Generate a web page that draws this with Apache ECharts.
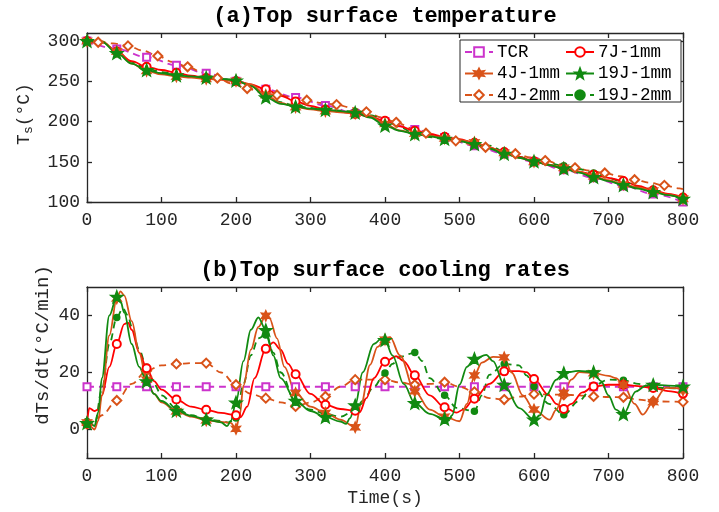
<!DOCTYPE html>
<html><head><meta charset="utf-8">
<script src="https://cdn.jsdelivr.net/npm/echarts@6/dist/echarts.min.js"></script>
<style>html,body{margin:0;padding:0;background:#fff}#c{width:719px;height:512px}</style>
</head><body><div id="c"></div>
<script>
// ---------------- DATA ----------------
const seriesNames = ['TCR','7J-1mm','4J-1mm','19J-1mm','4J-2mm','19J-2mm'];
const xTicks = [0,100,200,300,400,500,600,700,800];
const topYTicks = [100,150,200,250,300];
const botYTicks = [0,20,40];

// (a) top surface temperature, time every 20 s
const topTime = [0,20,40,60,80,100,120,140,160,180,200,220,240,260,280,300,320,340,360,380,400,420,440,460,480,500,520,540,560,580,600,620,640,660,680,700,720,740,760,780,800];
const top7J1mm  = [300,299,287,275,268,264,260.5,257,254,252,250,246,240,232,225,219.5,215,212,209.5,206,201,194,188.5,184.5,181,178,173.5,168,162,156,150.5,146,141.5,137.5,134,130,126,120,114.5,110,105.5];
const top4J1mm  = [300,299.5,287,272,263,258.5,256,254.5,253,252,250.5,246,233,223,218,215,213,211.5,210,207,197,189,185,182,179,177,174,168,161,155,150,146.5,142.5,138,132,127,122,118,114,109,104];
const top19J1mm = [300,299,285,272,264,260,257.5,256,254.5,253,251,244,230,222,218.5,216,214.5,213,211,205,195,188.5,184.5,181.5,178.5,175.5,172,166.5,160,155,150.5,146,141.5,136.5,131,126,121,116.5,112.5,108.5,104];
const top19J2mm = [300,299.5,287,274,266,261.5,258.5,256,254.5,253,251.5,245,233,224,219.5,217,215,213.5,212,208,202,193,185,180.5,178,176,174.5,170,163,156,151,148,145,141,136,130,124,119,114,109,104];
const topTCR = [[0,300],[40,290],[80,280],[120,270],[160,260],[200,250],[240,240],[280,230],[320,220],[360,210],[400,200],[440,190],[480,180],[520,170],[560,160],[600,150],[640,140],[680,130],[720,120],[760,110],[800,100]];
const top4J2mm = [[0,300],[15,298.5],[35,297],[55,294],[75,288],[95,281.5],[115,274],[135,268],[155,261],[175,254],[195,247],[215,241],[235,236],[255,233],[275,230],[295,226.5],[315,223],[335,221],[355,217],[375,212],[395,205],[415,199],[435,192],[455,185.5],[475,180],[495,176],[515,172],[535,168],[555,164],[575,160],[595,155.5],[615,151.5],[635,147],[655,142.5],[675,139],[695,136],[715,132],[735,127.6],[755,124],[775,120.7],[795,117],[800,116]];

// (b) top surface cooling rates [time, rate]
const botTCR = [[0,15],[40,15],[80,15],[120,15],[160,15],[200,15],[240,15],[280,15],[320,15],[360,15],[400,15],[440,15],[480,15],[520,15],[560,15],[600,15],[640,15],[680,15],[720,15],[760,15],[800,15]];
const bot7J1mm = [[0,2],[3,7.5],[10,6.5],[15,7],[20,12],[30,22],[40,30],[50,37],[55,37.5],[60,35],[70,27],[80,21.5],[90,17],[100,14],[120,10.5],[140,8],[160,6.9],[180,5.8],[200,5],[206,4.3],[215,8],[225,18],[240,28.3],[250,30.6],[260,28],[270,23],[280,19.4],[300,12.5],[320,8.7],[340,7.2],[360,6.6],[366,6.1],[375,11],[385,18],[400,23.8],[415,25.7],[425,24],[440,19],[460,12],[480,7.8],[496,5.9],[505,7],[520,10.8],[540,16],[560,20.4],[580,20.5],[590,20.1],[600,17.7],[620,12],[630,9],[640,7.2],[650,9],[665,13],[680,15.1],[700,15.7],[720,15.7],[740,15.2],[760,14.6],[780,13.5],[800,12.6]];
const bot4J1mm = [[0,2.5],[5,1],[10,0],[15,3],[20,12],[30,33],[40,46],[45,48.5],[50,47],[60,38],[70,27],[80,17.5],[90,12.5],[100,9.5],[120,6.4],[140,4.5],[160,3.2],[180,2.7],[193,2.3],[200,0.2],[205,5],[210,15.4],[220,28],[230,36],[240,39.9],[245,39],[255,32],[265,22],[280,12.8],[300,8],[320,5.8],[340,3.5],[360,0.8],[368,9],[380,22.7],[390,29],[400,31.5],[407,32.3],[420,26],[440,13.4],[460,7],[480,4.5],[500,2.9],[510,9],[520,19],[530,23.5],[545,25.5],[560,25.3],[570,20],[585,12],[600,7],[621,3.5],[630,7],[640,12.8],[650,17.5],[661,20.1],[680,19.8],[700,18.8],[710,18],[720,15.7],[735,9],[746,5.2],[760,9.6],[777,14.6],[790,14.5],[800,13.7]];
const bot19J1mm = [[0,2.3],[5,2],[10,1.2],[15,6],[20,18],[30,40],[40,46.6],[45,45],[50,41],[60,30],[70,22],[80,16.9],[90,12.5],[100,10],[120,6.6],[140,4.8],[160,3.5],[180,2.5],[188,1.2],[193,3],[200,9.5],[210,24],[220,35],[230,39.3],[240,34.9],[250,26],[260,18],[280,10.1],[300,6.5],[320,4.4],[340,2.8],[348,2],[353,4],[360,8.5],[370,20],[385,30],[397,32.3],[400,31.4],[410,26],[425,16],[440,9.3],[460,5.5],[480,3.7],[485,3],[490,5],[500,15.7],[510,22],[520,24.8],[536,26.2],[545,24],[560,15.7],[580,7.5],[600,3.5],[608,5],[617,12.2],[630,17.5],[640,19.8],[660,20.6],[680,20.1],[690,17],[700,12],[710,7],[720,5.4],[737,13.4],[750,15.4],[760,15.7],[780,15.4],[800,15.1]];
const bot4J2mm = [[0,2],[10,3],[20,5],[40,10.2],[60,16],[80,20.6],[100,22.5],[120,23],[140,23.3],[160,23.3],[180,20],[200,15.7],[220,12.5],[240,11],[260,9.5],[280,8.1],[300,9.5],[320,11.6],[340,15],[360,17.5],[380,17.5],[400,17.5],[420,16.5],[440,15.7],[460,16],[480,16.6],[500,15],[520,13.2],[540,11],[560,10.5],[580,11.5],[600,12.4],[620,12.3],[640,12.2],[660,12],[680,11.6],[700,11.4],[720,11.3],[740,10.5],[760,9.9],[780,9.8],[800,9.7]];
const bot19J2mm = [[0,2.8],[5,2],[10,1.5],[20,14],[30,30],[40,39.3],[48,42.5],[55,40],[60,36],[70,28],[80,21.8],[90,16],[100,12],[120,7.3],[140,5],[160,3.5],[180,3],[190,2.5],[200,4],[210,16],[220,26],[230,32],[240,33.2],[250,27],[260,20],[280,9.6],[300,7],[320,5.5],[340,4.5],[360,6.8],[370,10],[385,15],[400,19.8],[410,23],[420,25.5],[440,27],[450,24],[460,18],[480,12],[496,7.6],[520,6.4],[530,12],[540,19.2],[560,23],[580,22.5],[590,19],[600,15.1],[620,9],[640,5.2],[660,10],[680,15.4],[700,17.5],[720,17.3],[740,16],[760,14.8],[780,14.5],[800,14.4]];

// ---------------- STYLE ----------------
const FONT = 'Liberation Mono';
const AX = '#262626';
const C_TCR = '#CC33CC', C_RED = '#FF0000', C_OR = '#D95319', C_GR = '#118A11';

function starPath(n, inner) {
  const pts = [];
  for (let i = 0; i < 2 * n; i++) {
    const r = (i % 2) ? inner : 1;
    const a = -Math.PI / 2 + i * Math.PI / n;
    pts.push((50 + 50 * r * Math.cos(a)).toFixed(2) + ' ' + (50 + 50 * r * Math.sin(a)).toFixed(2));
  }
  return 'path://M' + pts.join(' L') + ' Z';
}
const PENTA = starPath(5, 0.42);
const HEXA = starPath(6, 0.5);

const sty = {
  'TCR':     {color: C_TCR, dash: [7,5], symbol: 'emptyRect', size: 7},
  '7J-1mm':  {color: C_RED, dash: 'solid', symbol: 'emptyCircle', size: 8},
  '4J-1mm':  {color: C_OR, dash: 'solid', symbol: HEXA, size: 10},
  '19J-1mm': {color: C_GR, dash: 'solid', symbol: PENTA, size: 12},
  '4J-2mm':  {color: C_OR, dash: [7,5], symbol: 'emptyDiamond', size: 9},
  '19J-2mm': {color: C_GR, dash: [7,5], symbol: 'circle', size: 6}
};

function mk(name, pairs, gi, markAt) {
  const s = sty[name];
  return {
    type: 'line', name: name,
    xAxisIndex: gi * 2, yAxisIndex: gi * 2,
    data: pairs.map(p => markAt(p[0]) ? {value: p} : {value: p, symbol: 'none'}),
    symbol: s.symbol, symbolSize: s.size, symbolKeepAspect: true,
    showSymbol: true, showAllSymbol: true,
    smooth: 0.35, smoothMonotone: 'x',
    lineStyle: {color: s.color, width: 1.8, type: s.dash},
    itemStyle: {color: s.color, borderColor: s.color, borderWidth: 1.5},
    emphasis: {disabled: true}, animation: false, clip: true
  };
}
const zip = (t, v) => t.map((x, i) => [x, v[i]]);
const m40 = t => t % 40 === 0;
const m15 = t => (t - 15) % 40 === 0;
const all = t => true;

function xAx(gi, pos, labels) {
  return {
    type: 'value', gridIndex: gi, position: pos, min: 0, max: 800, interval: 100,
    axisLine: {show: true, onZero: false, lineStyle: {color: AX, width: 1.3}},
    axisTick: {show: true, inside: true, length: 5, lineStyle: {color: AX, width: 1.3}},
    axisLabel: {show: labels, color: AX, fontFamily: FONT, fontSize: 18, margin: 9},
    splitLine: {show: false}
  };
}
function yAx(gi, pos, min, max, ticks, labels) {
  return {
    type: 'value', gridIndex: gi, position: pos, min: min, max: max,
    axisLine: {show: true, onZero: false, lineStyle: {color: AX, width: 1.3}},
    axisTick: {show: true, inside: true, length: 5, customValues: ticks, lineStyle: {color: AX, width: 1.3}},
    axisLabel: {show: labels, customValues: ticks, color: AX, fontFamily: FONT, fontSize: 18, margin: 7},
    splitLine: {show: false}
  };
}
const legendCommon = {orient: 'vertical', top: 43, padding: 0, itemWidth: 28, itemHeight: 12, itemGap: 3.5,
  textStyle: {fontFamily: FONT, fontSize: 17.5, color: '#000', padding: [0, 0, 0, -1]}, selectedMode: false, z: 10};

const chart = echarts.init(document.getElementById('c'), null, {renderer: 'canvas'});
const option = {
  backgroundColor: '#fff',
  animation: false,
  grid: [
    {left: 87, right: 36, top: 33, height: 169},
    {left: 87, right: 36, top: 287, height: 171}
  ],
  xAxis: [xAx(0, 'bottom', true), xAx(0, 'top', false), xAx(1, 'bottom', true), xAx(1, 'top', false)],
  yAxis: [yAx(0, 'left', 100, 310, topYTicks, true), yAx(0, 'right', 100, 310, topYTicks, false),
          yAx(1, 'left', -10, 50, botYTicks, true), yAx(1, 'right', -10, 50, botYTicks, false)],
  legend: [
    Object.assign({data: ['TCR', '4J-1mm', '4J-2mm'], left: 464}, legendCommon),
    Object.assign({data: ['7J-1mm', '19J-1mm', '19J-2mm'], left: 565}, legendCommon)
  ],
  graphic: [
    {type: 'rect', shape: {x: 460, y: 40, width: 221, height: 62}, style: {fill: '#fff', stroke: AX, lineWidth: 1}, z: 9},
    {type: 'text', x: 385, y: 16, style: {text: '(a)Top surface temperature', font: 'bold 22px "Liberation Mono"', fill: '#000', align: 'center', verticalAlign: 'middle'}},
    {type: 'text', x: 385, y: 270, style: {text: '(b)Top surface cooling rates', font: 'bold 22px "Liberation Mono"', fill: '#000', align: 'center', verticalAlign: 'middle'}},
    {type: 'text', x: 385, y: 498, style: {text: 'Time(s)', font: '18px "Liberation Mono"', fill: AX, align: 'center', verticalAlign: 'middle'}},
    {type: 'text', x: 24, y: 114, rotation: Math.PI / 2,
     style: {text: '{t|T}{s|s}{t|(°C)}', align: 'center', verticalAlign: 'middle',
       rich: {t: {font: '18px "Liberation Mono"', fill: AX}, s: {font: '13px "Liberation Mono"', fill: AX, padding: [10, 0, 0, 0]}}}},
    {type: 'text', x: 43, y: 345, rotation: Math.PI / 2,
     style: {text: 'dTs/dt(°C/min)', font: '19px "Liberation Mono"', fill: AX, align: 'center', verticalAlign: 'middle'}}
  ],
  series: [
    mk('TCR', topTCR, 0, all),
    mk('4J-2mm', top4J2mm, 0, m15),
    mk('19J-2mm', zip(topTime, top19J2mm), 0, m40),
    mk('7J-1mm', zip(topTime, top7J1mm), 0, m40),
    mk('4J-1mm', zip(topTime, top4J1mm), 0, m40),
    mk('19J-1mm', zip(topTime, top19J1mm), 0, m40),
    mk('TCR', botTCR, 1, all),
    mk('4J-2mm', bot4J2mm, 1, m40),
    mk('19J-2mm', bot19J2mm, 1, m40),
    mk('7J-1mm', bot7J1mm, 1, m40),
    mk('4J-1mm', bot4J1mm, 1, m40),
    mk('19J-1mm', bot19J1mm, 1, m40)
  ]
};
chart.setOption(option);
</script>
</body></html>
